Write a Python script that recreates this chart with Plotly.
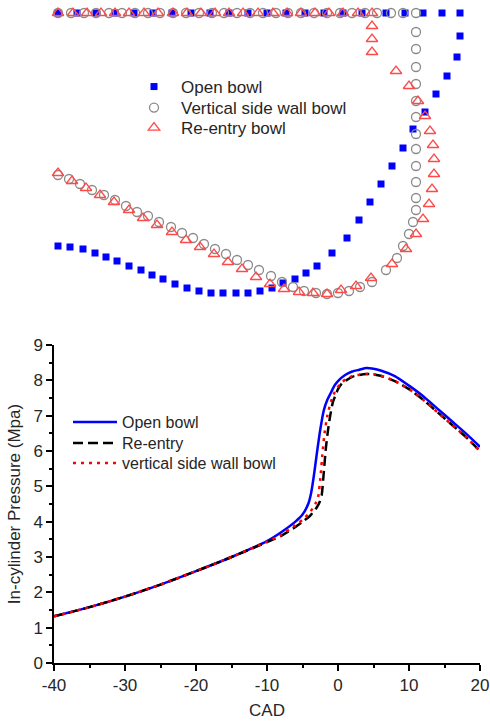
import plotly.graph_objects as go

# ---------------- Top panel: bowl profiles (radius mm, depth mm) ----------------
open_x = [0, 1.9, 3.8, 5.7, 7.6, 9.5, 11.4, 13.3, 15.2, 17.1, 19.0, 20.9, 22.8, 24.7, 26.6, 28.5, 30.4,
          32.8, 34.7, 36.5, 38.4, 40.2,
          40.2, 39.9, 38.9, 37.8, 36.7, 35.5, 34.5, 33.4, 32.3, 31.2, 30.1, 28.9, 27.4, 25.9, 24.8, 23.7,
          22.5, 21.4, 20.2, 19.0, 17.8, 16.5, 15.3, 14.1, 12.9, 11.7, 10.5, 9.4, 8.3, 7.1, 5.9, 4.8,
          3.7, 2.5, 1.2, 0]
open_y = [0] * 22 + [2.3, 4.4, 6.3, 8.1, 9.9, 11.6, 13.5, 15.3, 17.1, 18.9, 20.7, 22.5, 24.0, 25.3, 26.0, 26.6,
                     27.0, 27.5, 27.8, 28.0, 28.0, 28.0, 28.0, 27.8, 27.5, 27.1, 26.6, 26.2, 25.7, 25.3, 24.8, 24.4,
                     24.0, 23.6, 23.4, 23.3]

vert_x = [0, 1.3, 2.6, 3.8, 5.1, 6.4, 7.7, 9.0, 10.2, 11.5, 12.8, 14.1, 15.4, 16.6, 17.9, 19.2, 20.5, 21.8,
          23.0, 24.3, 25.6, 26.9, 28.2, 29.4, 30.7, 31.9, 33.3, 34.5, 35.8,
          35.8, 35.8, 35.8, 35.8, 35.8, 35.8, 35.8, 35.8, 35.8, 35.8, 35.8, 35.8,
          35.5, 35.1, 34.5, 33.9, 32.8, 31.4, 30.2, 29.1, 28.0, 26.9, 25.8, 24.6, 23.5, 22.4, 21.3, 20.1,
          19.0, 17.9, 16.8, 15.7, 14.6, 13.5, 12.4, 11.3, 10.1, 9.0, 7.9, 6.8, 5.7, 4.6, 3.4, 2.2, 1.1, 0]
vert_y = [0] * 29 + [1.9, 3.6, 5.4, 7.1, 8.8, 10.4, 12.1, 13.6, 15.3, 16.9, 18.5, 19.7,
                     20.9, 22.1, 23.3, 24.5, 25.7, 26.9, 27.4, 27.8, 28.0, 28.1, 28.0, 27.8, 27.4, 26.9, 26.3, 25.7,
                     25.2, 24.7, 24.1, 23.6, 23.1, 22.5, 22.0, 21.4, 20.9, 20.3, 19.9, 19.3, 18.7, 18.2, 17.7, 17.1,
                     16.6, 16.2]

reen_x = [0, 1.5, 2.9, 4.3, 5.7, 7.1, 8.6, 10.0, 11.5, 12.9, 14.3, 15.7, 17.1, 18.5, 20.0, 21.5, 22.9, 24.3,
          25.7, 27.1, 28.5, 30.0, 31.4,
          31.4, 31.4, 31.4, 33.8, 35.1, 36.0, 36.7, 37.2, 37.5, 37.6, 37.6, 37.4, 37.1, 36.5, 35.8, 34.8,
          33.4, 31.3, 29.8, 28.3, 26.9, 25.5, 24.1, 22.6, 21.2, 19.8, 18.4, 17.0, 15.6, 14.2, 12.8, 11.4,
          9.9, 8.5, 7.1, 5.6, 4.2, 2.8, 1.4, 0]
reen_y = [0] * 23 + [1.3, 2.6, 3.9, 5.8, 7.3, 8.8, 10.3, 11.8, 13.2, 14.6, 16.1, 17.6, 19.1, 20.6, 22.1, 23.6,
                     25.1, 26.5, 27.3, 27.7, 28.1, 28.0, 27.9, 27.6, 27.1, 26.4, 25.6, 24.9, 24.1, 23.4, 22.7, 21.9,
                     21.2, 20.5, 19.7, 18.9, 18.2, 17.5, 16.8, 16.0]

# ---------------- Bottom panel: in-cylinder pressure ----------------
cad_open = [-40, -35, -30, -25, -20, -15, -10, -8, -6, -5, -4.2, -3.8, -3.4, -3.0, -2.5, -2.0, -1.5, -1.0,
            -0.5, 0, 1, 2, 3, 4, 5, 6, 8, 10, 12, 14, 16, 18, 20]
p_open = [1.32, 1.58, 1.88, 2.22, 2.6, 3.0, 3.45, 3.7, 4.0, 4.2, 4.5, 4.8, 5.3, 5.9, 6.6, 7.15, 7.45, 7.65,
          7.85, 7.98, 8.15, 8.25, 8.3, 8.35, 8.33, 8.28, 8.12, 7.85, 7.55, 7.2, 6.85, 6.5, 6.12]

cad_reen = [-40, -35, -30, -25, -20, -15, -10, -8, -6, -5, -4, -3, -2.6, -2.3, -2.0, -1.7, -1.4, -1.1, -0.7,
            -0.3, 0, 0.5, 1, 2, 3, 4, 5, 6, 8, 10, 12, 14, 16, 18, 20]
p_reen = [1.32, 1.58, 1.88, 2.22, 2.6, 3.0, 3.42, 3.6, 3.85, 4.0, 4.15, 4.4, 4.55, 4.75, 5.4, 6.1, 6.6, 7.0,
          7.4, 7.6, 7.75, 7.9, 7.98, 8.1, 8.15, 8.18, 8.17, 8.13, 7.98, 7.75, 7.45, 7.1, 6.75, 6.4, 6.0]

cad_vert = [-40, -35, -30, -25, -20, -15, -10, -8, -6, -5, -4, -3.2, -2.8, -2.5, -2.2, -1.9, -1.5, -1.0, -0.5,
            0, 1, 2, 3, 4, 5, 6, 8, 10, 12, 14, 16, 18, 20]
p_vert = [1.32, 1.58, 1.88, 2.22, 2.6, 3.0, 3.43, 3.62, 3.9, 4.05, 4.25, 4.5, 4.7, 5.2, 5.9, 6.5, 7.0, 7.4,
          7.65, 7.82, 8.02, 8.12, 8.16, 8.18, 8.17, 8.13, 7.98, 7.75, 7.45, 7.1, 6.75, 6.4, 6.0]

x_ticks = [-40, -30, -20, -10, 0, 10, 20]
x_tick_labels = ["-40", "-30", "-20", "-10", "0", "10", "20"]
y_ticks = [0, 1, 2, 3, 4, 5, 6, 7, 8, 9]
y_tick_labels = ["0", "1", "2", "3", "4", "5", "6", "7", "8", "9"]

FONT = "Arial, Liberation Sans, sans-serif"
TXT = "#262626"

fig = go.Figure()

# top scatter
fig.add_trace(go.Scatter(x=open_x, y=open_y, mode="markers", name="Open bowl",
                         xaxis="x2", yaxis="y2", legend="legend2",
                         marker=dict(symbol="square", size=7, color="#0000ff", line=dict(width=0))))
fig.add_trace(go.Scatter(x=vert_x, y=vert_y, mode="markers", name="Vertical side wall bowl",
                         xaxis="x2", yaxis="y2", legend="legend3",
                         marker=dict(symbol="circle-open", size=9, color="#8a8a8a", line=dict(width=1.3))))
fig.add_trace(go.Scatter(x=reen_x, y=reen_y, mode="markers", name="Re-entry bowl",
                         xaxis="x2", yaxis="y2", legend="legend4",
                         marker=dict(symbol="triangle-up-open", size=10, color="#ff4a4a", line=dict(width=1.3))))

# bottom lines
fig.add_trace(go.Scatter(x=cad_open, y=p_open, mode="lines", name="Open bowl", legend="legend",
                         line=dict(color="#0000ff", width=2.5, shape="spline", smoothing=0.6)))
fig.add_trace(go.Scatter(x=cad_reen, y=p_reen, mode="lines", name="Re-entry", legend="legend5",
                         line=dict(color="#000000", width=2.5, dash="10px,5px", shape="spline", smoothing=0.6)))
fig.add_trace(go.Scatter(x=cad_vert, y=p_vert, mode="lines", name="vertical side wall bowl", legend="legend6",
                         line=dict(color="#ff0000", width=2.5, dash="3px,5px", shape="spline", smoothing=0.6)))

H = 723.0
W = 490.0


def leg(row_px, x_px, size):
    return dict(x=x_px / W, y=(H - row_px) / H, xanchor="left", yanchor="middle",
                bgcolor="rgba(0,0,0,0)", font=dict(size=size, color=TXT), itemwidth=44)


fig.update_layout(
    width=490, height=723,
    margin=dict(l=0, r=0, t=0, b=0, autoexpand=False),
    paper_bgcolor="white", plot_bgcolor="white",
    font=dict(family=FONT, color=TXT, size=17),
    xaxis=dict(domain=[54 / W, 480 / W], range=[-40, 20], tickvals=x_ticks, ticktext=x_tick_labels,
               automargin=False,
               showgrid=False, zeroline=False, showline=True, linecolor="black", linewidth=1.5,
               ticks="outside", ticklen=6, tickwidth=1.5, tickcolor="black",
               tickfont=dict(size=17, color=TXT),
               minor=dict(dtick=5, ticks="outside", ticklen=3, tickwidth=1.5, tickcolor="black"),
               title=dict(text="CAD", font=dict(size=17, color=TXT), standoff=10)),
    yaxis=dict(domain=[(H - 663) / H, (H - 345) / H], range=[0, 9], tickvals=y_ticks, ticktext=y_tick_labels,
               automargin=False,
               showgrid=False, zeroline=False, showline=True, linecolor="black", linewidth=1.5,
               ticks="outside", ticklen=6, tickwidth=1.5, tickcolor="black",
               tickfont=dict(size=17, color=TXT),
               minor=dict(dtick=0.5, ticks="outside", ticklen=3, tickwidth=1.5, tickcolor="black"),
               title=dict(text="In-cylinder Pressure (Mpa)", font=dict(size=17, color=TXT), standoff=8)),
    xaxis2=dict(domain=[0, 1], range=[-5.8, 43.2], visible=False, anchor="y2", automargin=False),
    yaxis2=dict(domain=[(H - 310) / H, 1], range=[29.7, -1.3], visible=False, anchor="x2", automargin=False),
    legend2=leg(87, 127, 17),
    legend3=leg(108, 127, 17),
    legend4=leg(128, 127, 17),
    legend=leg(422, 68, 16),
    legend5=leg(443, 68, 16),
    legend6=leg(463, 68, 16),
    showlegend=True,
)

fig.write_html("out.html", config={"displayModeBar": False},
               post_script="document.body.style.margin='0';")
